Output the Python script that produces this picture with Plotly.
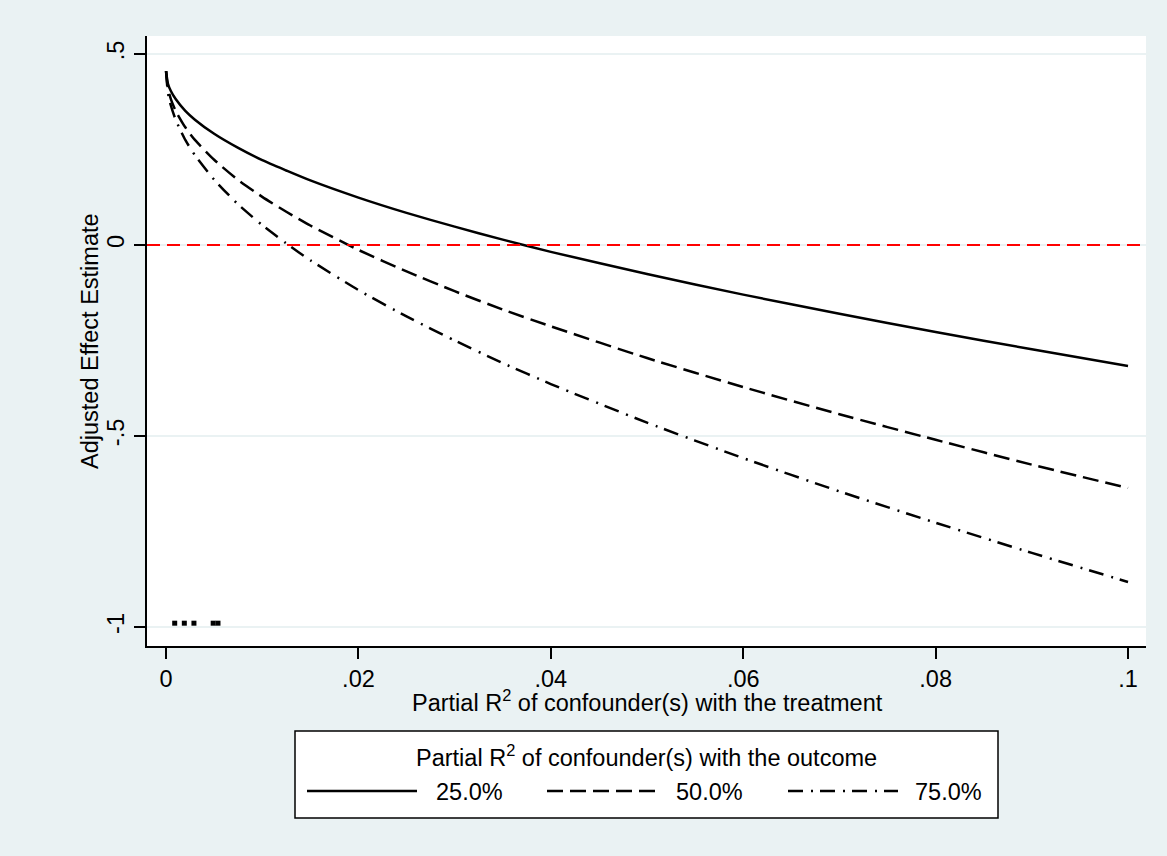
import plotly.graph_objects as go

# ---- data ----
r2_treatment = [0.0, 0.0002, 0.0005, 0.001, 0.002, 0.003, 0.005, 0.0075, 0.01, 0.0125,
                0.015, 0.02, 0.025, 0.03, 0.035, 0.04, 0.05, 0.06, 0.07, 0.08, 0.09, 0.1]
est_25 = [0.455, 0.422, 0.403, 0.382, 0.351, 0.328, 0.291, 0.254, 0.222, 0.195,
          0.169, 0.124, 0.084, 0.048, 0.014, -0.018, -0.076, -0.130, -0.180, -0.228, -0.273, -0.317]
est_50 = [0.455, 0.409, 0.382, 0.351, 0.308, 0.275, 0.223, 0.170, 0.126, 0.087,
          0.051, -0.013, -0.069, -0.121, -0.169, -0.213, -0.296, -0.372, -0.443, -0.510, -0.575, -0.636]
est_75 = [0.455, 0.398, 0.365, 0.328, 0.275, 0.235, 0.171, 0.106, 0.052, 0.004,
          -0.040, -0.118, -0.187, -0.250, -0.309, -0.364, -0.465, -0.558, -0.645, -0.727, -0.806, -0.882]
series_labels = ["25.0%", "50.0%", "75.0%"]

bench_x = [0.0009, 0.0019, 0.0029, 0.0049, 0.0054]
bench_y = [-0.99, -0.99, -0.99, -0.99, -0.99]

x_ticks = [0, 0.02, 0.04, 0.06, 0.08, 0.1]
x_ticktext = ["0", ".02", ".04", ".06", ".08", ".1"]
y_ticks = [-1, -0.5, 0, 0.5]
y_ticktext = ["-1", "-.5", "0", ".5"]

x_title = "Partial R<sup>2</sup> of confounder(s) with the treatment"
y_title = "Adjusted Effect Estimate"
legend_title = "Partial R<sup>2</sup> of confounder(s) with the outcome"

# ---- styles ----
FONT = "Liberation Sans, Arial, Helvetica, sans-serif"
FS = 23.5
BG = "#EAF2F3"
dash_styles = ["solid", "16px,7px", "15px,8px,2px,7px"]
LW = 2.5

fig = go.Figure()
for ys, lab, dsh in zip([est_25, est_50, est_75], series_labels, dash_styles):
    fig.add_trace(go.Scatter(x=r2_treatment, y=ys, mode="lines", name=lab,
                             line=dict(color="black", width=LW, dash=dsh, shape="spline", smoothing=0.6),
                             showlegend=False, hoverinfo="skip"))

fig.add_trace(go.Scatter(x=bench_x, y=bench_y, mode="markers",
                         marker=dict(symbol="square", size=5, color="black", line=dict(width=0)),
                         showlegend=False, hoverinfo="skip"))

# red reference line at zero
fig.add_shape(type="line", xref="paper", x0=0, x1=1, yref="y", y0=0, y1=0,
              line=dict(color="#FF0000", width=2, dash="13px,7px"), layer="above")

# ---- manual legend (Stata style) ----
px_l, px_r, px_t, px_b = 147, 1146, 36, 646
W, H = px_r - px_l, px_b - px_t
def pxx(v): return (v - px_l) / W
def pxy(v): return (px_b - v) / H

fig.add_shape(type="rect", xref="paper", yref="paper",
              x0=pxx(295), x1=pxx(998), y0=pxy(818), y1=pxy(731),
              fillcolor="white", line=dict(color="black", width=1.5), layer="above")
fig.add_annotation(xref="paper", yref="paper", x=pxx(646.5), y=pxy(756), text=legend_title,
                   showarrow=False, xanchor="center", yanchor="middle",
                   font=dict(family=FONT, size=FS, color="black"))
line_starts = [307, 547, 788]
label_centers = [469, 709, 948.5]
for s, c, lab, dsh in zip(line_starts, label_centers, series_labels, dash_styles):
    fig.add_shape(type="line", xref="paper", yref="paper",
                  x0=pxx(s), x1=pxx(s + 110), y0=pxy(791), y1=pxy(791),
                  line=dict(color="black", width=LW, dash=dsh), layer="above")
    fig.add_annotation(xref="paper", yref="paper", x=pxx(c), y=pxy(792), text=lab,
                       showarrow=False, xanchor="center", yanchor="middle",
                       font=dict(family=FONT, size=FS, color="black"))

# axis titles
fig.add_annotation(xref="paper", yref="paper", x=pxx(647), y=pxy(701), text=x_title,
                   showarrow=False, xanchor="center", yanchor="middle",
                   font=dict(family=FONT, size=FS, color="black"))
fig.add_annotation(xref="paper", yref="paper", x=pxx(90), y=pxy(341), text=y_title,
                   showarrow=False, xanchor="center", yanchor="middle", textangle=-90,
                   font=dict(family=FONT, size=FS, color="black"))

fig.update_layout(
    width=1167, height=856,
    margin=dict(l=px_l, r=1167 - px_r, t=px_t, b=856 - px_b, autoexpand=False),
    paper_bgcolor=BG, plot_bgcolor="white",
    font=dict(family=FONT, size=FS, color="black"),
    showlegend=False,
)
fig.update_xaxes(range=[-0.00198, 0.10187], tickvals=x_ticks, ticktext=x_ticktext,
                 showgrid=False, zeroline=False, showline=True, linecolor="black", linewidth=1.5,
                 ticks="outside", ticklen=11, tickwidth=1.5, tickcolor="black",
                 ticklabelstandoff=0, tickfont=dict(family=FONT, size=FS, color="black"))
fig.update_yaxes(range=[-1.0497, 0.547], tickvals=y_ticks, ticktext=y_ticktext,
                 showgrid=True, gridcolor=BG, gridwidth=2, zeroline=False,
                 showline=True, linecolor="black", linewidth=1.5,
                 ticks="outside", ticklen=11, tickwidth=1.5, tickcolor="black",
                 tickangle=-90, ticklabelstandoff=1, tickfont=dict(family=FONT, size=FS, color="black"))

fig.write_html("out.html", config={"displayModeBar": False},
               post_script="document.body.style.margin='0';")
